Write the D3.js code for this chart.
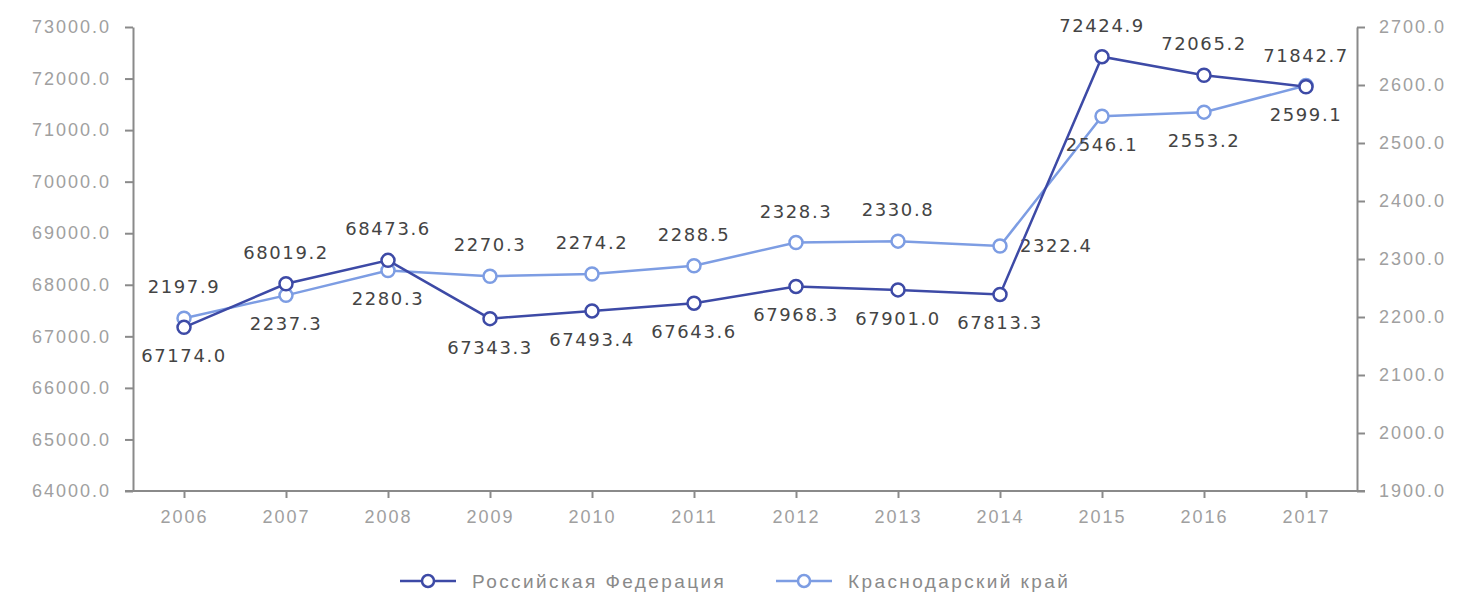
<!DOCTYPE html>
<html><head><meta charset="utf-8">
<script src="https://cdn.jsdelivr.net/npm/d3@7"></script>
<style>body{margin:0;background:#fff;}svg{display:block;font-family:"DejaVu Sans",sans-serif;}</style>
</head><body><svg id="c" width="1458" height="595"></svg>
<script>
const years = ["2006","2007","2008","2009","2010","2011","2012","2013","2014","2015","2016","2017"];
const rfValues = [67174.0,68019.2,68473.6,67343.3,67493.4,67643.6,67968.3,67901.0,67813.3,72424.9,72065.2,71842.7];
const kkValues = [2197.9,2237.3,2280.3,2270.3,2274.2,2288.5,2328.3,2330.8,2322.4,2546.1,2553.2,2599.1];
const leftTicks = [64000,65000,66000,67000,68000,69000,70000,71000,72000,73000];
const rightTicks = [1900,2000,2100,2200,2300,2400,2500,2600,2700];
const seriesNames = ["Российская Федерация","Краснодарский край"];
// label placement per point: 'a' above, 'b' below, 'r' right
const rfPos = ["b","a","a","b","b","b","b","b","b","a","a","a"];
const kkPos = ["a","b","b","a","a","a","a","a","r","b","b","b"];

const svg = d3.select("#c");
const L = 133, R = 1357, T = 27, B = 491;
const x = d3.scalePoint().domain(years).range([L, R]).padding(0.5);
const yL = d3.scaleLinear().domain([64000,73000]).range([B, T]);
const yR = d3.scaleLinear().domain([1900,2700]).range([B, T]);
const axisCol = "#8a8a8a", tickTextCol = "#a0a0a0";
const rfCol = "#3d4aa6", kkCol = "#7d9de3";

function styleAxis(g){
  g.selectAll("path.domain").attr("stroke", axisCol).attr("stroke-width", 2);
  g.selectAll(".tick line").attr("stroke", axisCol).attr("stroke-width", 2);
  g.selectAll(".tick text").attr("fill", tickTextCol).style("font-size","18px").style("letter-spacing","2px");
}
const gl = svg.append("g").attr("transform",`translate(${L},0)`)
  .call(d3.axisLeft(yL).tickValues(leftTicks).tickFormat(d3.format(".1f")).tickSize(8).tickPadding(14).tickSizeOuter(0));
styleAxis(gl);
const gr = svg.append("g").attr("transform",`translate(${R},0)`)
  .call(d3.axisRight(yR).tickValues(rightTicks).tickFormat(d3.format(".1f")).tickSize(8).tickPadding(14).tickSizeOuter(0));
styleAxis(gr);
const gx = svg.append("g").attr("transform",`translate(0,${B})`)
  .call(d3.axisBottom(x).tickSize(7).tickPadding(12).tickSizeOuter(0));
styleAxis(gx);
gx.select("path.domain").attr("d",`M${L-8},0H${R+8}`);

function drawSeries(vals, y, col, pos){
  const data = years.map((yr,i)=>({yr, v: vals[i], p: pos[i]}));
  svg.append("path").datum(data)
    .attr("fill","none").attr("stroke",col).attr("stroke-width",2.5)
    .attr("d", d3.line().x(d=>x(d.yr)).y(d=>y(d.v)));
  svg.append("g").selectAll("circle").data(data).join("circle")
    .attr("cx",d=>x(d.yr)).attr("cy",d=>y(d.v)).attr("r",6.5)
    .attr("fill","#fff").attr("stroke",col).attr("stroke-width",2.5);
  svg.append("g").selectAll("text").data(data).join("text")
    .attr("x",d=> d.p==="r" ? x(d.yr)+20 : x(d.yr))
    .attr("y",d=> y(d.v) + (d.p==="a" ? -25 : d.p==="b" ? 35 : 6))
    .attr("text-anchor",d=> d.p==="r" ? "start" : "middle")
    .attr("fill","#444").style("font-size","18px").style("letter-spacing","1.6px")
    .text(d=>d3.format(".1f")(d.v));
}
drawSeries(kkValues, yR, kkCol, kkPos);
drawSeries(rfValues, yL, rfCol, rfPos);

// legend
const legend = [{name:seriesNames[0], col:rfCol, x:400},{name:seriesNames[1], col:kkCol, x:776}];
const lg = svg.append("g").selectAll("g").data(legend).join("g").attr("transform",d=>`translate(${d.x},581)`);
lg.append("line").attr("x1",0).attr("x2",56).attr("stroke",d=>d.col).attr("stroke-width",2.5);
lg.append("circle").attr("cx",28).attr("r",6).attr("fill","#fff").attr("stroke",d=>d.col).attr("stroke-width",2.5);
lg.append("text").attr("x",72).attr("y",7).attr("fill","#8a8a8a").style("font-family","'Liberation Sans',Arial,sans-serif").style("font-size","19px").style("letter-spacing","2.4px").text(d=>d.name);
</script></body></html>
